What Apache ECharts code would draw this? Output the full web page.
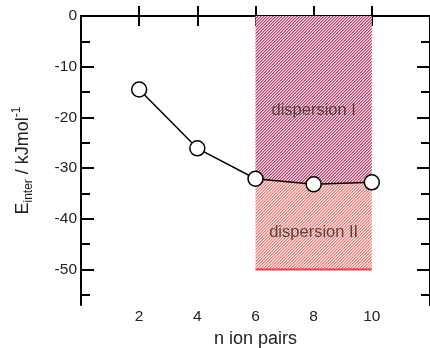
<!DOCTYPE html>
<html>
<head>
<meta charset="utf-8">
<script src="https://cdn.jsdelivr.net/npm/echarts@6/dist/echarts.min.js"></script>
<style>
  html, body { margin: 0; padding: 0; background: #fff; }
  #chart { width: 430px; height: 348px; }
</style>
</head>
<body>
<div id="chart"></div>
<script>
// data
const nPairs = [2, 4, 6, 8, 10];
const eInter = [-14.5, -26.1, -32.1, -33.2, -32.8];
const dispersionFloor = -50;
const dispersionTop = 0;
const xTicks = [2, 4, 6, 8, 10];
const yMajor = [0, -10, -20, -30, -40, -50];
const yMinor = [-5, -15, -25, -35, -45, -55];
const regionLabels = [
  { name: 'dispersion I', x: 8, y: -18.6 },
  { name: 'dispersion II', x: 8, y: -42.6 }
];

const FONT = '"Liberation Sans", Arial, Helvetica, sans-serif';

// diagonal hatch tile, 3 px period
function hatch(strong, mid, light) {
  const c = document.createElement('canvas');
  c.width = 6; c.height = 6;
  const ctx = c.getContext('2d');
  const cols = [strong, mid, light];
  for (let x = 0; x < 6; x++) {
    for (let y = 0; y < 6; y++) {
      ctx.fillStyle = cols[(x + y) % 3];
      ctx.fillRect(x, y, 1, 1);
    }
  }
  return { image: c, repeat: 'repeat' };
}

const regionX = nPairs.filter(function (n) { return n >= 6; });
const regionPts = regionX.map(function (n) { return [n, eInter[nPairs.indexOf(n)]]; });

const myChart = echarts.init(document.getElementById('chart'), null, { renderer: 'canvas' });

const axisLine = { show: true, lineStyle: { color: '#000', width: 2 } };

myChart.setOption({
  animation: false,
  backgroundColor: '#fff',
  grid: { left: 81, top: 16, width: 349, height: 289, containLabel: false, outerBoundsMode: 'none' },
  xAxis: [
    {
      type: 'value', min: 0, max: 12, interval: 2, position: 'bottom',
      name: 'n ion pairs', nameLocation: 'middle', nameGap: 24,
      nameTextStyle: { fontFamily: FONT, fontSize: 18, color: '#222' },
      axisLine: axisLine,
      axisTick: { inside: true, length: 10, lineStyle: { color: '#000', width: 2 } },
      axisLabel: { fontFamily: FONT, fontSize: 15.5, color: '#222', margin: 4,
        showMinLabel: false, showMaxLabel: false,
        formatter: function (v) { return xTicks.indexOf(v) >= 0 ? String(v) : ''; } },
      splitLine: { show: false }
    },
    {
      type: 'value', min: 0, max: 12, interval: 2, position: 'top',
      axisLine: axisLine,
      axisTick: { inside: true, length: 10, lineStyle: { color: '#000', width: 2 } },
      axisLabel: { show: false },
      splitLine: { show: false }
    }
  ],
  yAxis: [
    {
      type: 'value', min: -57, max: 0, position: 'left',
      name: '{m|E}{sub|inter}{m| / kJmol}{sup|-1}',
      nameLocation: 'middle', nameGap: 46, nameRotate: 90,
      nameTextStyle: {
        fontFamily: FONT, fontSize: 18, color: '#222',
        rich: {
          m: { fontFamily: FONT, fontSize: 18, color: '#222', lineHeight: 24, verticalAlign: 'middle' },
          sub: { fontFamily: FONT, fontSize: 12, color: '#222', lineHeight: 24, verticalAlign: 'bottom' },
          sup: { fontFamily: FONT, fontSize: 12, color: '#222', lineHeight: 24, verticalAlign: 'top' }
        }
      },
      axisLine: axisLine,
      axisTick: { inside: true, length: 13, customValues: yMajor, lineStyle: { color: '#000', width: 2 } },
      axisLabel: { fontFamily: FONT, fontSize: 15.5, color: '#222', margin: 4, customValues: yMajor },
      splitLine: { show: false }
    },
    {
      type: 'value', min: -57, max: 0, position: 'left',
      axisLine: { show: false },
      axisTick: { inside: true, length: 9, customValues: yMinor, lineStyle: { color: '#000', width: 2 } },
      axisLabel: { show: false },
      splitLine: { show: false }
    },
    {
      type: 'value', min: -57, max: 0, position: 'right',
      axisLine: axisLine,
      axisTick: { inside: true, length: 13, customValues: yMajor, lineStyle: { color: '#000', width: 2 } },
      axisLabel: { show: false },
      splitLine: { show: false }
    },
    {
      type: 'value', min: -57, max: 0, position: 'right',
      axisLine: { show: false },
      axisTick: { inside: true, length: 9, customValues: yMinor, lineStyle: { color: '#000', width: 2 } },
      axisLabel: { show: false },
      splitLine: { show: false }
    }
  ],
  series: [
    {
      // dispersion I: curve up to 0
      type: 'line', xAxisIndex: 0, yAxisIndex: 0, z: 1,
      data: regionPts, symbol: 'none',
      lineStyle: { opacity: 0 },
      areaStyle: { origin: dispersionTop, color: hatch('#bc3e6a', '#de90aa', '#f9e6ec'), opacity: 1 }
    },
    {
      // dispersion II: curve down to -50
      type: 'line', xAxisIndex: 0, yAxisIndex: 0, z: 1,
      data: regionPts, symbol: 'none',
      lineStyle: { opacity: 0 },
      areaStyle: { origin: dispersionFloor, color: hatch('#f07a7a', '#f7b2aa', '#fdece8'), opacity: 1 }
    },
    {
      type: 'line', xAxisIndex: 0, yAxisIndex: 0, z: 2,
      data: [[regionX[0], dispersionFloor], [regionX[regionX.length - 1], dispersionFloor]],
      symbol: 'none', lineStyle: { color: '#ee3b3b', width: 2 }
    },
    {
      type: 'line', xAxisIndex: 0, yAxisIndex: 0, z: 5,
      data: nPairs.map(function (n, i) { return [n, eInter[i]]; }),
      symbol: 'circle', symbolSize: 15,
      lineStyle: { color: '#000', width: 1.5 },
      itemStyle: { color: '#fff', borderColor: '#000', borderWidth: 1.5 }
    },
    {
      type: 'scatter', xAxisIndex: 0, yAxisIndex: 0, z: 6,
      data: regionLabels.map(function (d) { return { name: d.name, value: [d.x, d.y] }; }),
      symbolSize: 0,
      label: { show: true, position: 'inside', formatter: '{b}',
        fontFamily: FONT, fontSize: 16.5, color: '#2a2a2a' }
    }
  ]
});
</script>
</body>
</html>
